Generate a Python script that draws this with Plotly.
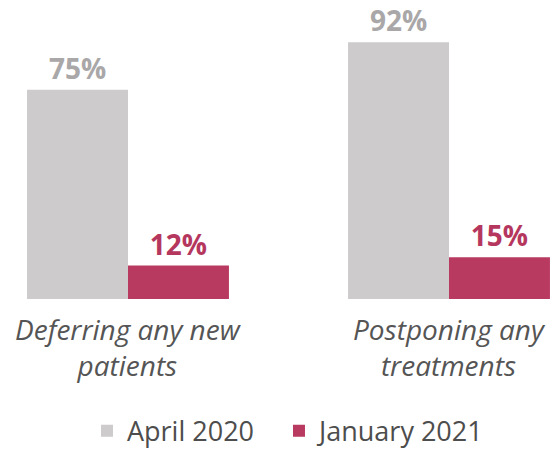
import plotly.graph_objects as go

categories = ["Deferring any new<br>patients", "Postponing any<br>treatments"]
april_2020 = [75, 92]
january_2021 = [12, 15]
series_names = ["April 2020", "January 2021"]

grey = "#cdcbcc"
grey_text = "#a9a7a8"
red = "#b93a61"
red_text = "#b5375e"
font = "Open Sans"

fig = go.Figure()
fig.add_trace(go.Bar(
    x=categories, y=april_2020, name=series_names[0], legend="legend",
    marker=dict(color=grey, line=dict(width=0)),
    text=[f"{v}%" for v in april_2020], textposition="outside",
    textfont=dict(family=font, size=28, color=grey_text, weight="bold"),
    cliponaxis=False,
))
fig.add_trace(go.Bar(
    x=categories, y=january_2021, name=series_names[1], legend="legend2",
    marker=dict(color=red, line=dict(width=0)),
    text=[f"{v}%" for v in january_2021], textposition="outside",
    textfont=dict(family=font, size=28, color=red_text, weight="bold"),
    cliponaxis=False,
))

for cat in categories:
    fig.add_annotation(
        x=cat, y=0, xref="x", yref="paper", yanchor="top", xanchor="center",
        text=cat, showarrow=False, yshift=-9,
        font=dict(family=font, size=28, color="#555555", style="italic"),
    )

legend_style = dict(orientation="h", xanchor="left", y=-0.474, yanchor="middle",
                    font=dict(family=font, size=27, color="#4d4d4d"),
                    bgcolor="rgba(0,0,0,0)",
                    itemclick=False, itemdoubleclick=False)

fig.update_layout(
    width=552, height=456,
    margin=dict(l=0, r=0, t=20.3, b=149, pad=0),
    paper_bgcolor="white", plot_bgcolor="white",
    barmode="group", bargap=0.371, bargroupgap=0,
    showlegend=True,
    legend=dict(x=0.1576, **legend_style),
    legend2=dict(x=0.5054, **legend_style),
    xaxis=dict(type="category", range=[-0.39875, 1.32087], showticklabels=False,
               showgrid=False, zeroline=False, showline=False, ticks=""),
    yaxis=dict(range=[0, 100], visible=False, showgrid=False, zeroline=False),
)

fig.write_html("out.html", config={"displayModeBar": False},
               post_script="document.body.style.margin='0px';")
